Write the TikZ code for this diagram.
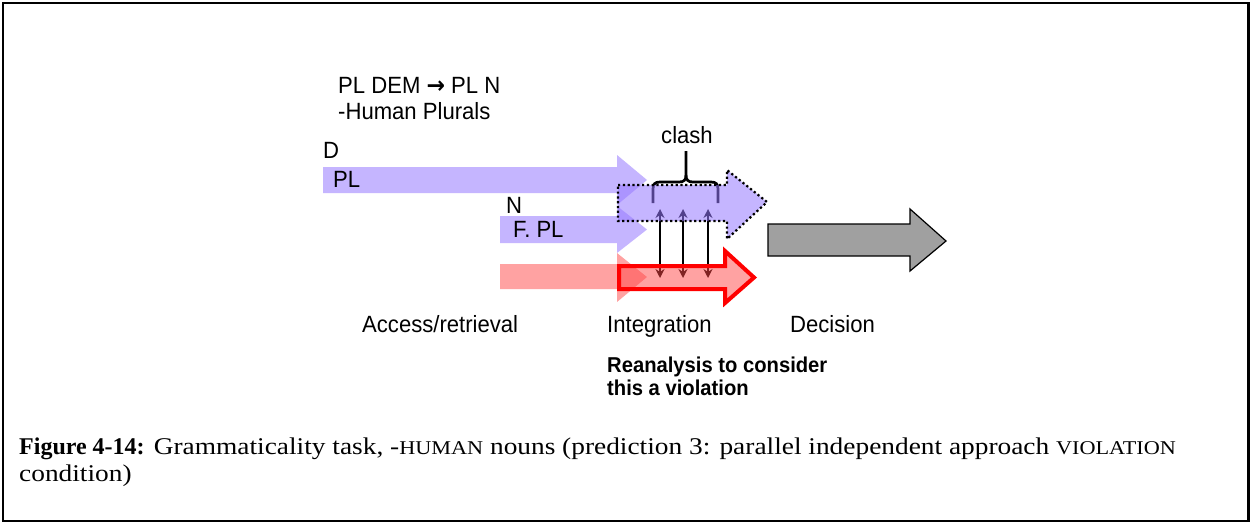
\documentclass[tikz,border=0pt]{standalone}
\usepackage{fontspec}
\usetikzlibrary{arrows.meta}
\setmainfont{Liberation Serif}
\newfontfamily\arialfont[FakeStretch=0.94]{Liberation Sans}
\newfontfamily\symfont[FakeStretch=0.94]{DejaVu Sans}
\newfontfamily\captfont[FakeStretch=1.14]{Liberation Serif}
\newfontfamily\captbold{Liberation Serif}

\definecolor{lav}{RGB}{150,120,255}
\definecolor{salmon}{RGB}{255,70,70}
\definecolor{redline}{RGB}{255,0,0}
\definecolor{greyfill}{RGB}{160,160,160}

% block arrow outline: x0, x1 (head base), body top, body bottom,
% head top, head bottom, tip x, tip y
\newcommand\arrowpath[8]{(#1,#3) -- (#2,#3) -- (#2,#5) -- (#7,#8) -- (#2,#6) -- (#2,#4) -- (#1,#4) -- cycle}

\tikzset{
  lbl/.style={inner sep=0pt, anchor=base west, font=\arialfont\fontsize{23.5}{27}\selectfont},
  boldlbl/.style={inner sep=0pt, anchor=base west,
    font=\arialfont\bfseries\fontsize{21.5}{24}\selectfont},
  capt/.style={inner sep=0pt, anchor=base west, font=\captfont\fontsize{24}{29}\selectfont},
  lavarrow/.style={fill=lav, fill opacity=0.55},
  pinkarrow/.style={fill=salmon, fill opacity=0.5},
  dotborder/.style={draw=black, line width=2.2pt, dash pattern=on 2.2pt off 2.6pt},
  redborder/.style={draw=redline, line width=4pt, miter limit=10},
  greyarrow/.style={fill=greyfill, draw=black, line width=1.2pt},
  linkarrow/.style={line width=2.4pt, {Stealth[length=9pt,width=9pt]}-{Stealth[length=9pt,width=9pt]}},
  bracestyle/.style={line width=2.7pt, line cap=butt}
}

\begin{document}
\begin{tikzpicture}[x=1pt,y=-1pt]
\path[use as bounding box] (0,0) rectangle (1250,523);
\draw[line width=2.5pt] (3,3) rectangle (1248.5,521);

% input streams
\fill[lavarrow] \arrowpath{323}{617}{167}{193}{155}{205}{647}{180};
\fill[lavarrow] \arrowpath{500}{617}{216}{243}{206}{253}{647}{229.5};
\fill[pinkarrow] \arrowpath{500}{617}{264}{289}{253}{302}{647}{277};

% clash brace
\draw[bracestyle] (653,203) -- (653,189) .. controls (653,184) and (655,182) .. (660,182)
  -- (679,182) .. controls (684,182) and (686,180) .. (686,175) -- (686,151);
\draw[bracestyle] (686,175) .. controls (686,180) and (688,182) .. (693,182)
  -- (711,182) .. controls (716,182) and (718,184) .. (718,189) -- (718,203);

% links between the two integration streams
\coordinate (t1) at (660,209);
\coordinate (b1) at (660,278);
\coordinate (t2) at (683,209);
\coordinate (b2) at (683,278);
\coordinate (t3) at (708,209);
\coordinate (b3) at (708,278);
\draw[linkarrow] (t1) -- (b1);
\draw[linkarrow] (t2) -- (b2);
\draw[linkarrow] (t3) -- (b3);

% integration stage
\fill[lavarrow] \arrowpath{618}{727}{185}{221}{170}{239}{767}{202};
\fill[pinkarrow] \arrowpath{619}{725}{266}{289}{251}{303}{754}{277.5};
\draw[dotborder] \arrowpath{618}{727}{185}{221}{170}{239}{767}{202};
\draw[redborder] \arrowpath{619}{725}{266}{289}{251}{303}{754}{277.5};

% decision stage
\draw[greyarrow] \arrowpath{768}{910}{224}{256}{209}{271}{946}{241};

% labels
\node[lbl] (rule) at (338,93) {PL DEM {\symfont\bfseries →} PL N};
\node[lbl] (cls) at (338,119) {-Human Plurals};
\node[lbl] (dlab) at (323,158) {D};
\node[lbl] (dpl) at (333,187) {PL};
\node[lbl] (nlab) at (506,213) {N};
\node[lbl] (npl) at (513,237) {F. PL};
\node[lbl] (clash) at (661,143) {clash};
\node[lbl] (acc) at (362,332) {Access/retrieval};
\node[lbl] (integ) at (607,332) {Integration};
\node[lbl] (dec) at (790,332) {Decision};
\node[boldlbl] (rean1) at (607,372) {Reanalysis to consider};
\node[boldlbl] (rean2) at (607,395) {this a violation};

% caption
\node[capt] (cap1) at (19,454) {{\captbold\bfseries Figure 4-14:} Grammaticality task, -{\fontsize{19.5}{29}\selectfont HUMAN} nouns (prediction 3: parallel independent approach {\fontsize{19.5}{29}\selectfont VIOLATION}};
\node[capt] (cap2) at (19,481) {condition)};
\end{tikzpicture}
\end{document}
